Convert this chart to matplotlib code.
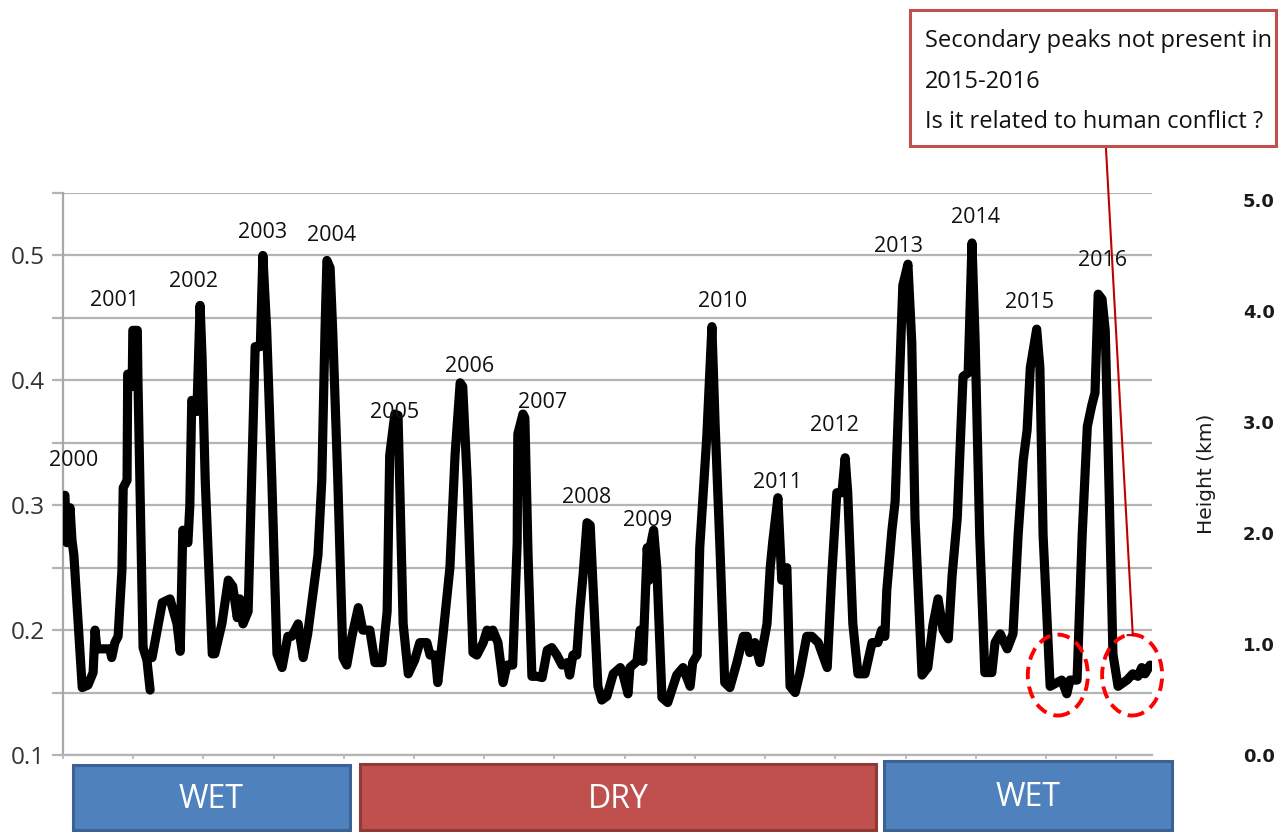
import numpy as np
import matplotlib
matplotlib.use("Agg")
import matplotlib.pyplot as plt
from matplotlib.patches import Ellipse, Rectangle

nan = np.nan

# time in years since 2000 (decimal)
years_t = [0.03, 0.06, 0.11, 0.14, 0.17, 0.30, 0.39, 0.47, 0.50, 0.53, 0.73, 0.76, 0.81, 0.86,
           0.92, 0.94, 1.00, 1.01, 1.08, 1.09, 1.16, 1.17, 1.25, 1.31, 1.36, nan,
           1.36, 1.39, 1.55, 1.67, 1.78, 1.83, 1.87, 1.95, 1.98, 2.01, 2.09, 2.14, 2.17, 2.22,
           2.33, 2.37, 2.48, 2.58, 2.65, 2.72, 2.76, 2.81, 2.89, 3.00, 3.08, 3.12, 3.18, 3.26,
           3.34, 3.42, 3.51, 3.57, 3.67, 3.75, 3.82, 3.98, 4.04, 4.09, 4.12, 4.17, 4.21, 4.29,
           4.37, 4.43, 4.51, 4.61, 4.68, 4.79, 4.87, 4.98, 5.06, 5.10, 5.18, 5.23, 5.26, 5.31,
           5.39, 5.49, 5.57, 5.68, 5.73, 5.81, 5.85, 5.93, 6.04, 6.12, 6.20, 6.24, 6.31, 6.40,
           6.46, 6.56, 6.62, 6.67, 6.71, 6.79, 6.87, 6.93, 7.02, 7.09, 7.10, 7.18, 7.21, 7.26,
           7.32, 7.40, 7.48, 7.56, 7.63, 7.71, 7.79, 7.87, 7.91, 7.96, 8.02, 8.07, 8.12, 8.18,
           8.23, 8.27, 8.35, 8.41, 8.49, 8.59, 8.70, 8.74, 8.82, 8.85, 8.96, 9.01, 9.05, 9.12,
           9.15, 9.18, 9.22, 9.27, 9.35, 9.44, 9.58, 9.68, 9.79, 9.83, 9.90, 9.94, 10.05, 10.13,
           10.18, 10.26, 10.33, 10.41, 10.52, 10.62, 10.68, 10.72, 10.80, 10.88, 10.99, 11.04,
           11.08, 11.16, 11.22, 11.30, 11.35, 11.43, 11.50, 11.61, 11.69, 11.79, 11.93, 12.00,
           12.08, 12.16, 12.21, 12.25, 12.33, 12.41, 12.52, 12.63, 12.72, 12.78, 12.83, 12.86,
           12.94, 12.99, 13.07, 13.11, 13.19, 13.25, 13.30, 13.41, 13.50, 13.58, 13.66, 13.74,
           13.82, 13.88, 13.96, 14.05, 14.13, 14.19, 14.24, 14.31, 14.39, 14.50, 14.55, 14.63,
           14.74, 14.83, 14.91, 14.99, 15.05, 15.10, 15.20, 15.25, 15.30, 15.41, 15.52, 15.59,
           15.67, 15.72, 15.83, 15.91, 15.99, 16.06, 16.11, 16.16, 16.22, 16.27, 16.31, 16.39,
           16.47, 16.61, 16.70, 16.78, 16.84, 16.89, 16.97]

index_vals = [0.308, 0.270, 0.298, 0.272, 0.260, 0.154, 0.156, 0.166, 0.200, 0.185, 0.185, 0.178, 0.190, 0.195,
              0.248, 0.314, 0.320, 0.405, 0.395, 0.440, 0.440, 0.400, 0.186, 0.176, 0.152, nan,
              0.178, 0.178, 0.222, 0.225, 0.205, 0.183, 0.280, 0.270, 0.300, 0.384, 0.375, 0.460, 0.420, 0.320,
              0.181, 0.181, 0.205, 0.240, 0.235, 0.210, 0.225, 0.205, 0.215, 0.427, 0.427, 0.500, 0.440, 0.320,
              0.181, 0.170, 0.195, 0.195, 0.205, 0.178, 0.197, 0.260, 0.320, 0.440, 0.496, 0.490, 0.440, 0.320,
              0.178, 0.172, 0.195, 0.218, 0.200, 0.200, 0.174, 0.174, 0.215, 0.340, 0.373, 0.372, 0.310, 0.205,
              0.165, 0.176, 0.190, 0.190, 0.180, 0.180, 0.158, 0.195, 0.250, 0.340, 0.398, 0.395, 0.320, 0.182,
              0.180, 0.190, 0.200, 0.195, 0.200, 0.190, 0.158, 0.172, 0.172, 0.270, 0.357, 0.373, 0.370, 0.260,
              0.163, 0.163, 0.162, 0.184, 0.186, 0.180, 0.172, 0.174, 0.164, 0.180, 0.180, 0.217, 0.245, 0.286,
              0.284, 0.240, 0.155, 0.144, 0.147, 0.165, 0.170, 0.165, 0.149, 0.170, 0.175, 0.200, 0.175, 0.266,
              0.240, 0.270, 0.280, 0.250, 0.146, 0.142, 0.164, 0.170, 0.155, 0.174, 0.180, 0.266, 0.355, 0.443,
              0.365, 0.260, 0.158, 0.154, 0.174, 0.195, 0.195, 0.182, 0.190, 0.174, 0.205, 0.250,
              0.271, 0.306, 0.240, 0.250, 0.155, 0.150, 0.165, 0.195, 0.195, 0.190, 0.170, 0.243,
              0.310, 0.310, 0.338, 0.310, 0.205, 0.165, 0.165, 0.190, 0.190, 0.200, 0.195, 0.232,
              0.280, 0.303, 0.420, 0.476, 0.493, 0.430, 0.290, 0.164, 0.170, 0.204, 0.225, 0.200,
              0.193, 0.244, 0.290, 0.403, 0.406, 0.510, 0.430, 0.276, 0.166, 0.166, 0.190, 0.197,
              0.185, 0.197, 0.276, 0.336, 0.360, 0.410, 0.441, 0.410, 0.276, 0.155, 0.158, 0.160,
              0.149, 0.160, 0.160, 0.276, 0.363, 0.380, 0.390, 0.469, 0.465, 0.440, 0.356, 0.181,
              0.155, 0.160, 0.165, 0.163, 0.170, 0.165, 0.172]

peak_labels = ['2000', '2001', '2002', '2003', '2004', '2005', '2006', '2007', '2008',
               '2009', '2010', '2011', '2012', '2013', '2014', '2015', '2016']
peak_label_t = [0.17, 0.81, 2.03, 3.11, 4.20, 5.18, 6.34, 7.49, 8.18,
                9.13, 10.29, 11.15, 12.04, 13.05, 14.25, 15.09, 16.22]
peak_label_v = [0.336, 0.464, 0.479, 0.518, 0.516, 0.374, 0.411, 0.382, 0.306,
                0.288, 0.463, 0.318, 0.364, 0.507, 0.530, 0.462, 0.496]

left_ticks = [0.10, 0.15, 0.20, 0.25, 0.30, 0.35, 0.40, 0.45, 0.50, 0.55]
left_ticklabels = ['0.1', '', '0.2', '', '0.3', '', '0.4', '', '0.5', '']
height_ticks = [0, 1, 2, 3, 4, 5]
height_ticklabels = ['0.0', '1.0', '2.0', '3.0', '4.0', '5.0']

period_names = ['WET', 'DRY', 'WET']
period_fill = ['#4f81bd', '#c0504d', '#4f81bd']
period_edge = ['#3a6294', '#8e3a37', '#3a6294']

note_lines = ['Secondary peaks not present in', '2015-2016', 'Is it related to human conflict ?']
circle_t = [15.53, 16.69]
circle_v = [0.164, 0.164]

W, H = 1278, 832
fig = plt.figure(figsize=(W / 100, H / 100), dpi=100)
ax = fig.add_axes([63 / W, (H - 755) / H, (1152 - 63) / W, (755 - 193) / H])

GRID = '#b4b4b4'
ax.plot(years_t, index_vals, color='black', lw=6.6, solid_joinstyle='round',
        solid_capstyle='round', zorder=3)

ax.set_xlim(0, 17)
ax.set_ylim(0.1, 0.55)
ax.set_yticks(left_ticks)
ax.set_yticklabels(left_ticklabels, fontsize=17.5, family='Open Sans', color='#333333')
ax.yaxis.grid(True, color=GRID, lw=1.6)
ax.set_axisbelow(True)
ax.tick_params(axis='y', length=8, width=1.6, color=GRID, pad=5)
ax.set_xticks(np.arange(0, 16.5, 1.096))
ax.set_xticklabels([])
ax.tick_params(axis='x', length=3, width=1.2, color=GRID, direction='out')
for s in ['top', 'right']:
    ax.spines[s].set_visible(False)
ax.spines['left'].set_color('#a8a8a8')
ax.spines['left'].set_linewidth(1.6)
ax.spines['bottom'].set_color(GRID)
ax.spines['bottom'].set_linewidth(1.6)

for lab, t, v in zip(peak_labels, peak_label_t, peak_label_v):
    ax.text(t, v, lab, ha='center', va='center', fontsize=15.5, family='Open Sans',
            color='#111111', zorder=4)

ax2 = ax.twinx()
ax2.set_ylim(0, 5.063)
ax2.set_yticks(height_ticks)
ax2.set_yticklabels(height_ticklabels, fontsize=13, fontweight='bold', color='#1a1a1a')
ax2.tick_params(axis='y', length=0, pad=65.5)
for s in ax2.spines.values():
    s.set_visible(False)
ax2.set_ylabel('Height (km)', fontsize=14.5, color='#1a1a1a')
ax2.yaxis.set_label_coords((1197 - 63) / 1089, 0.5)

for t, v in zip(circle_t, circle_v):
    ax.add_patch(Ellipse((t, v), width=0.937, height=0.0648, fill=False, edgecolor='#ff0000',
                         lw=2.8, linestyle=(0, (3.2, 1.9)), clip_on=False, zorder=5))

ax.plot([16.28, 16.70, 16.62], [0.5872, 0.196, 0.196], color='#c00000', lw=1.5,
        clip_on=False, zorder=6)

# note box
fig.add_artist(Rectangle((910 / W, (H - 146) / H), (1276 - 910) / W, 136 / H,
                         transform=fig.transFigure, facecolor='white', edgecolor='#c0504d',
                         lw=2.2, zorder=7))
for line, base in zip(note_lines, [47, 88, 128]):
    fig.text(925 / W, (H - base) / H, line, va='baseline', ha='left', fontsize=17,
             family='Open Sans', color='#111111', zorder=8)

# period boxes
box_px = [(73, 350, 765), (360, 876, 764), (884, 1172, 761)]
for name, fc, ec, (x0, x1, top) in zip(period_names, period_fill, period_edge, box_px):
    fig.add_artist(Rectangle((x0 / W, (H - 830) / H), (x1 - x0) / W, (830 - top) / H,
                             transform=fig.transFigure, facecolor=fc, edgecolor=ec, lw=2.2))
    fig.text((x0 + x1) / 2 / W, (H - (top + 830) / 2 - 2) / H, name, ha='center', va='center',
             fontsize=23, family='Open Sans', color='white')

fig.savefig('out.png', dpi=100)
